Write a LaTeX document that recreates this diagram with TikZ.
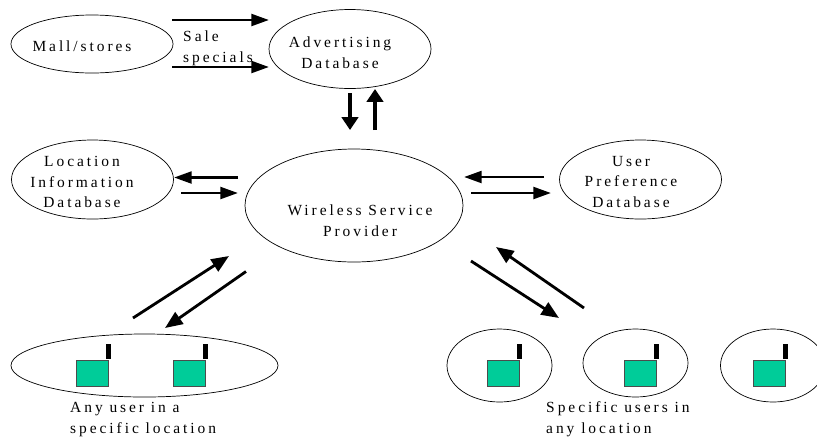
\documentclass[tikz,border=0pt]{standalone}
\usepackage{fontspec}
\usepackage{xcolor}
\usepackage{tikz}
\usetikzlibrary{arrows.meta,shapes.geometric}
\setmainfont[LetterSpace=19]{Liberation Serif}
\definecolor{phonegreen}{HTML}{00CC99}
\tikzset{
	bubble/.style={ellipse,draw,line width=0.6pt,inner sep=0pt},
	dbbubble/.style={bubble,minimum width=4.86cm,minimum height=2.37cm},
	cellbubble/.style={bubble,minimum width=3.15cm,minimum height=2.19cm},
	caption/.style={align=center,font=\fontsize{13.2}{17.8}\selectfont,inner sep=0pt},
	leftcaption/.style={caption,align=left,anchor=west},
	flow/.style={line width=2.4pt,-{Triangle[length=15pt,width=10pt]}},
	slantflow/.style={line width=2.4pt,-{Triangle[length=15pt,width=12pt]}},
	thickflow/.style={-{Triangle[length=11pt,width=14pt]}},
	phone/.style={draw=black!70,fill=phonegreen,line width=0.8pt,minimum width=0.98cm,minimum height=0.8cm,inner sep=0pt},
	antenna/.style={fill=black,minimum width=0.15cm,minimum height=0.45cm,inner sep=0pt,anchor=south}
}
\begin{document}
\begin{tikzpicture}[x=0.03cm,y=-0.03cm]
	\useasboundingbox (0,0) rectangle (817,436);
	% databases and provider
	\node[dbbubble,minimum height=1.74cm] (mall) at (92,44) {};
	\node[dbbubble] (adv) at (350,49) {};
	\node[dbbubble] (loc) at (92.5,179.5) {};
	\node[dbbubble] (pref) at (640.5,179.5) {};
	\node[bubble,minimum width=6.54cm,minimum height=3.39cm] (wsp) at (354,205.5) {};
	% users
	\node[bubble,minimum width=8.01cm,minimum height=1.89cm] (anyloc) at (144.5,365.5) {};
	\node[cellbubble] (cella) at (499.5,365.5) {};
	\node[cellbubble,minimum height=2.04cm] (cellb) at (635.5,363) {};
	\node[cellbubble] (cellc) at (773,365.5) {};
	\foreach \name/\x in {pa/92.5,pb/189.5,pc/503.5,pd/640.5,pe/769.5} {
		\node[phone] (\name) at (\x,373.5) {};
		\node[antenna] (\name ant) at ([xshift=-0.03cm]\name.north east) {};
	}
	% texts
	\node[caption] (malltext) at (82,46) {Mall/stores};
	\node[caption] (advtext) at (340,53) {Advertising\\Database};
	\node[caption] (loctext) at (82,182) {Location\\Information\\Database};
	\node[caption] (preftext) at (631,182) {User\\Preference\\Database};
	\node[caption] (wsptext) at (360,221) {Wireless Service\\Provider};
	\node[leftcaption] (saletext) at (183,48.5) {Sale\\specials};
	\node[leftcaption] (anytext) at (70,419.5) {Any user in a\\specific location};
	\node[leftcaption] (spectext) at (546,419.5) {Specific users in\\any location};
	% arrow ends
	\foreach \name/\x/\y in {
		sa/172/20, sb/269/20, sc/172/67, sd/269/67,
		da/350/93, db/350/130, ua/375/130, ub/375/89,
		la/238/177.5, lb/174/177.5, lc/181/193, ld/238/193,
		ra/544/177, rb/464/177, rc/471/193, rd/551/193,
		ya/133/318, yb/229/256, yc/246/271.5, yd/165/328,
		za/471/261, zb/559/318, zc/584/308, zd/496/247}
		\coordinate (\name) at (\x,\y);
	\draw[flow] (sa) -- (sb);
	\draw[flow] (sc) -- (sd);
	\draw[thickflow,line width=4.2pt] (da) -- (db);
	\draw[thickflow,line width=3.2pt] (ua) -- (ub);
	\draw[flow] (la) -- (lb);
	\draw[flow] (lc) -- (ld);
	\draw[flow] (ra) -- (rb);
	\draw[flow] (rc) -- (rd);
	\draw[slantflow] (ya) -- (yb);
	\draw[slantflow] (yc) -- (yd);
	\draw[slantflow] (za) -- (zb);
	\draw[slantflow] (zc) -- (zd);
\end{tikzpicture}
\end{document}
